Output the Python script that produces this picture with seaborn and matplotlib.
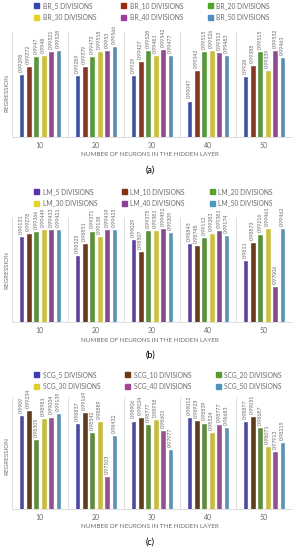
import seaborn as sns
import matplotlib.pyplot as plt
import pandas as pd
from matplotlib.patches import Patch

# data
neurons = ["10", "20", "30", "40", "50"]
divisions = ["5", "10", "20", "30", "40", "50"]

br_5 = [0.99298, 0.99289, 0.9929, 0.99047, 0.9928]
br_10 = [0.99372, 0.99379, 0.99427, 0.99342, 0.99388]
br_20 = [0.9947, 0.99473, 0.99528, 0.99515, 0.99515]
br_30 = [0.9948, 0.99518, 0.99481, 0.99526, 0.99339]
br_40 = [0.99521, 0.9953, 0.99542, 0.99513, 0.99532]
br_50 = [0.99528, 0.99566, 0.99477, 0.99483, 0.99463]

lm_5 = [0.99131, 0.98325, 0.99029, 0.98845, 0.9811]
lm_10 = [0.99278, 0.98851, 0.98507, 0.98748, 0.98873]
lm_20 = [0.99366, 0.99371, 0.99375, 0.99112, 0.99216]
lm_30 = [0.99449, 0.99138, 0.99381, 0.99283, 0.99461]
lm_40 = [0.99433, 0.99419, 0.99492, 0.99381, 0.97006]
lm_50 = [0.99421, 0.99425, 0.99309, 0.99174, 0.99462]

scg_5 = [0.9909, 0.98837, 0.98906, 0.99012, 0.98877]
scg_10 = [0.99234, 0.99169, 0.99024, 0.98925, 0.99051]
scg_20 = [0.98305, 0.98542, 0.98777, 0.98839, 0.98687]
scg_30 = [0.98981, 0.98889, 0.98958, 0.98524, 0.98071]
scg_40 = [0.99034, 0.97103, 0.98601, 0.98777, 0.97913]
scg_50 = [0.99139, 0.98432, 0.97977, 0.98683, 0.98215]

br_colors = ["#2F45B0", "#9A2A14", "#4FA62C", "#E2D420", "#9E3F9C", "#4E8FBF"]
lm_colors = ["#5B31AE", "#7A3512", "#58A02A", "#E2D42A", "#8E3F9A", "#4B9BC0"]
scg_colors = ["#3D3AAE", "#6B3A12", "#5C9830", "#DCCF2A", "#A24796", "#4E96BF"]

sns.set_theme(style="white")
plt.rcParams['font.family'] = ['Lato', 'DejaVu Sans']

fig = plt.figure(figsize=(2.98, 5.5), dpi=100)
W, H = 298.0, 550.0

panels = [
    ("BR", [br_5, br_10, br_20, br_30, br_40, br_50], br_colors, (0.987, 0.997),
     32, 137, 6, 93, "(a)"),
    ("LM", [lm_5, lm_10, lm_20, lm_30, lm_40, lm_50], lm_colors, (0.955, 0.999),
     218, 322, 192, 270, "(b)"),
    ("SCG", [scg_5, scg_10, scg_20, scg_30, scg_40, scg_50], scg_colors, (0.9603, 0.9967),
     397, 509, 375, 456, "(c)"),
]

grey = "#6B6B6B"

for name, series, colors, ylim, top, bottom, leg_y, ylab_y, tag in panels:
    rows = []
    for d, vals in zip(divisions, series):
        for n, v in zip(neurons, vals):
            rows.append({"neurons": n, "value": v, "series": f"{name}_{d} DIVISIONS"})
    df = pd.DataFrame(rows)

    ax = fig.add_axes([12 / W, 1 - bottom / H, 280 / W, (bottom - top) / H])
    sns.barplot(data=df, x="neurons", y="value", hue="series", palette=colors,
                width=0.8, gap=0.25, legend=False, ax=ax, errorbar=None)
    ax.set_ylim(*ylim)
    ax.set_xlim(-0.5, 4.5)

    for cont, vals in zip(ax.containers, series):
        ax.bar_label(cont, labels=[f"{v:g}" for v in vals], rotation=90,
                     fontsize=3.8, color=grey, padding=1.5, clip_on=False)

    # separators between groups
    for xx in [-0.5, 0.5, 1.5, 2.5, 3.5]:
        ax.axvline(xx, color="#D9D9D9", lw=0.6, zorder=0)

    for s in ['top', 'right', 'left']:
        ax.spines[s].set_visible(False)
    ax.spines['bottom'].set_color("#D9D9D9")
    ax.spines['bottom'].set_linewidth(0.6)
    ax.set_yticks([])
    ax.tick_params(axis='x', length=0, pad=3.5, labelsize=5, labelcolor=grey)
    ax.set_xlabel("")
    ax.set_ylabel("")

    fig.text(7 / W, 1 - ylab_y / H, "REGRESSION", rotation=90, fontsize=4.5,
             color=grey, ha="center", va="center")
    fig.text(150 / W, 1 - (bottom + 18) / H, "NUMBER OF NEURONS IN THE HIDDEN LAYER",
             fontsize=4.5, color=grey, ha="center", va="center")
    fig.text(150 / W, 1 - (bottom + 33) / H, tag, fontsize=6.5, color="black",
             ha="center", va="center")

    handles = [Patch(color=c) for c in colors]
    labels = [f"{name}_{d} DIVISIONS" for d in divisions]
    order = [0, 3, 1, 4, 2, 5]
    fig.legend([handles[i] for i in order], [labels[i] for i in order], ncol=3,
               loc="upper left", bbox_to_anchor=(34 / W, 1 - (leg_y - 4) / H),
               frameon=False, fontsize=4.8, handlelength=0.8, handleheight=0.8,
               handletextpad=0.5, columnspacing=3.7, labelspacing=0.7,
               borderpad=0, borderaxespad=0, labelcolor=grey)

fig.savefig("out.png", dpi=100)
